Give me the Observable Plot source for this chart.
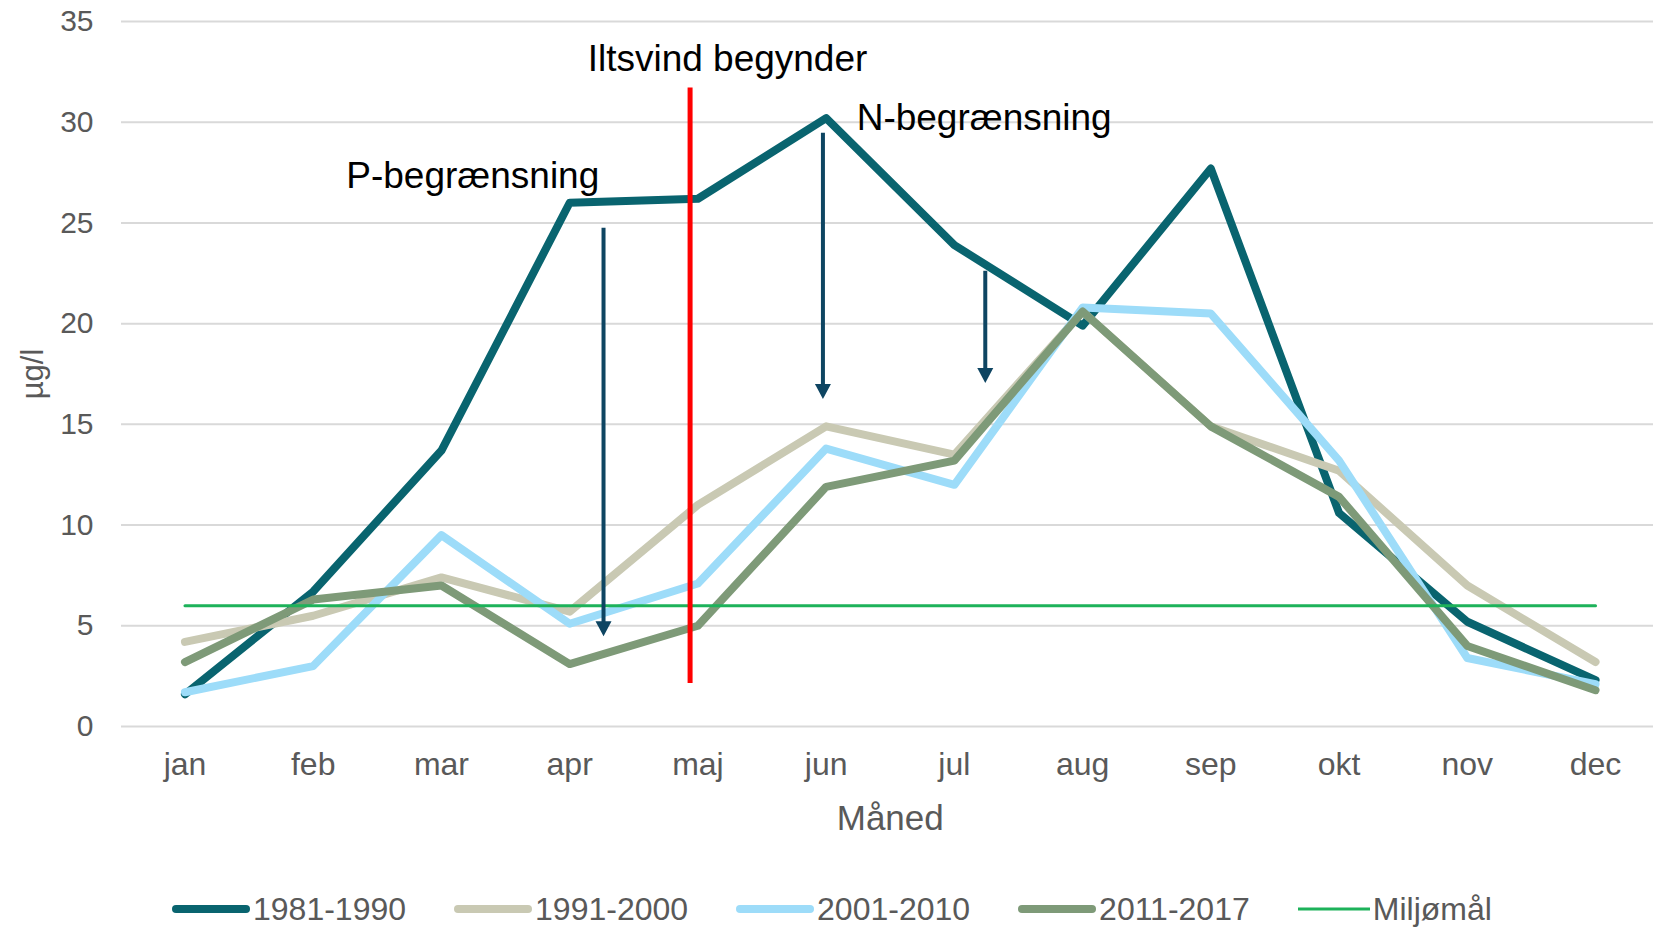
<!DOCTYPE html>
<html>
<head>
<meta charset="utf-8">
<script src="https://cdn.jsdelivr.net/npm/d3@7"></script>
<script src="https://cdn.jsdelivr.net/npm/@observablehq/plot@0.6"></script>
<style>
  body { margin: 0; background: #fff; font-family: "Liberation Sans", Arial, sans-serif; }
  #chart svg { display: block; }
  #legend { display: flex; align-items: center; height: 40px; margin-top: 39px; padding-left: 172px; color: #595959; font-size: 32px; white-space: nowrap; }
  .item { display: flex; align-items: center; margin-right: 48px; }
  .item svg { margin-right: 3px; display: block; }
</style>
</head>
<body>
<div id="chart"></div>
<div id="legend"></div>
<script>
// ---- data ----
const months = ["jan", "feb", "mar", "apr", "maj", "jun", "jul", "aug", "sep", "okt", "nov", "dec"];
const seriesNames = ["1981-1990", "1991-2000", "2001-2010", "2011-2017"];
const seriesColors = ["#09646F", "#C9C9B3", "#9DDCF9", "#7E9A78"];
const values1981 = [1.6, 6.7, 13.7, 26.0, 26.2, 30.2, 23.9, 19.9, 27.7, 10.6, 5.2, 2.3];
const values1991 = [4.2, 5.5, 7.4, 5.7, 11.0, 14.9, 13.5, 20.6, 14.9, 12.7, 7.0, 3.2];
const values2001 = [1.7, 3.0, 9.5, 5.1, 7.1, 13.8, 12.0, 20.8, 20.5, 13.2, 3.4, 2.1];
const values2011 = [3.2, 6.3, 7.0, 3.1, 5.0, 11.9, 13.2, 20.6, 14.9, 11.4, 4.0, 1.8];
const seriesValues = [values1981, values1991, values2001, values2011];
const targetName = "Miljømål";
const targetValue = 6;
const targetColor = "#1DB25A";
const yTicks = [0, 5, 10, 15, 20, 25, 30, 35];
const yLabel = "µg/l";
const xLabel = "Måned";
// annotations (x in month-index units, y in µg/l)
const redLine = [{x: 3.939, y1: 31.7, y2: 2.13}];
const arrows = [
  {x: 3.264, y1: 24.74, y2: 4.48},
  {x: 4.975, y1: 29.45, y2: 16.26},
  {x: 6.241, y1: 22.6, y2: 17.05}
];
const annotations = [
  {text: "Iltsvind begynder", x: 3.140, y: 32.54},
  {text: "N-begrænsning", x: 5.238, y: 29.61},
  {text: "P-begrænsning", x: 1.258, y: 26.73}
];

// ---- build tables ----
const lineTables = seriesValues.map(vals => vals.map((v, i) => ({i, v})));
const targetTable = months.map((m, i) => ({i, v: targetValue}));
const arrowColor = "#0E4562";
const downTriangle = {
  draw(ctx) {
    const w = 8, h = 15;
    ctx.moveTo(-w, -h);
    ctx.lineTo(w, -h);
    ctx.lineTo(0, 0);
    ctx.closePath();
  }
};

const H = 850;
const chart = Plot.plot({
  width: 1653,
  height: H,
  marginLeft: 121,
  marginRight: 0,
  marginTop: 21,
  marginBottom: H - 726,
  style: {fontFamily: "'Liberation Sans', Arial, sans-serif", color: "#595959", background: "white", overflow: "visible"},
  x: {type: "linear", domain: [-0.495, 11.452]},
  y: {type: "linear", domain: [0, 35]},
  marks: [
    Plot.ruleY(yTicks, {stroke: "#D9D9D9", strokeWidth: 2}),
    Plot.axisY({ticks: yTicks, tickSize: 0, tickPadding: 28, fontSize: 30, label: null}),
    Plot.axisX({ticks: d3.range(months.length), tickFormat: i => months[i], tickSize: 0, tickPadding: 26, fontSize: 32, label: null}),
    Plot.text([{text: xLabel, x: (months.length - 1) / 2, y: 0}], {x: "x", y: "y", text: "text", dy: 103, lineAnchor: "bottom", textAnchor: "middle", fontSize: 35, fill: "#595959"}),
    Plot.text([{text: yLabel, x: -0.495, y: 17.5}], {x: "x", y: "y", text: "text", dx: -88, rotate: -90, lineAnchor: "middle", textAnchor: "middle", fontSize: 31, fill: "#595959"}),
    ...lineTables.map((t, k) => Plot.line(t, {x: "i", y: "v", stroke: seriesColors[k], strokeWidth: 8, strokeLinecap: "round", strokeLinejoin: "round"})),
    Plot.line(targetTable, {x: "i", y: "v", stroke: targetColor, strokeWidth: 3}),
    Plot.ruleX(redLine, {x: "x", y1: "y1", y2: "y2", stroke: "#FF0000", strokeWidth: 5}),
    Plot.ruleX(arrows, {x: "x", y1: "y1", y2: d => d.y2 + 0.5, stroke: arrowColor, strokeWidth: 4}),
    Plot.dot(arrows, {x: "x", y: "y2", symbol: downTriangle, r: 5, fill: arrowColor, stroke: "none"}),
    Plot.text(annotations, {x: "x", y: "y", text: "text", textAnchor: "start", lineAnchor: "bottom", fontSize: 37, fill: "black"})
  ]
});
document.getElementById("chart").appendChild(chart);

// ---- legend ----
const legend = document.getElementById("legend");
const legendItems = seriesNames.map((n, k) => ({name: n, color: seriesColors[k], width: 8, len: 78}))
  .concat([{name: targetName, color: targetColor, width: 3, len: 72}]);
for (const it of legendItems) {
  const div = document.createElement("div");
  div.className = "item";
  const ns = "http://www.w3.org/2000/svg";
  const svg = document.createElementNS(ns, "svg");
  svg.setAttribute("width", it.len);
  svg.setAttribute("height", 12);
  const ln = document.createElementNS(ns, "line");
  ln.setAttribute("x1", it.width > 4 ? it.width / 2 : 0);
  ln.setAttribute("x2", it.width > 4 ? it.len - it.width / 2 : it.len);
  ln.setAttribute("y1", 6);
  ln.setAttribute("y2", 6);
  ln.setAttribute("stroke", it.color);
  ln.setAttribute("stroke-width", it.width);
  ln.setAttribute("stroke-linecap", it.width > 4 ? "round" : "butt");
  svg.appendChild(ln);
  const span = document.createElement("span");
  span.textContent = it.name;
  div.appendChild(svg);
  div.appendChild(span);
  legend.appendChild(div);
}
</script>
</body>
</html>
